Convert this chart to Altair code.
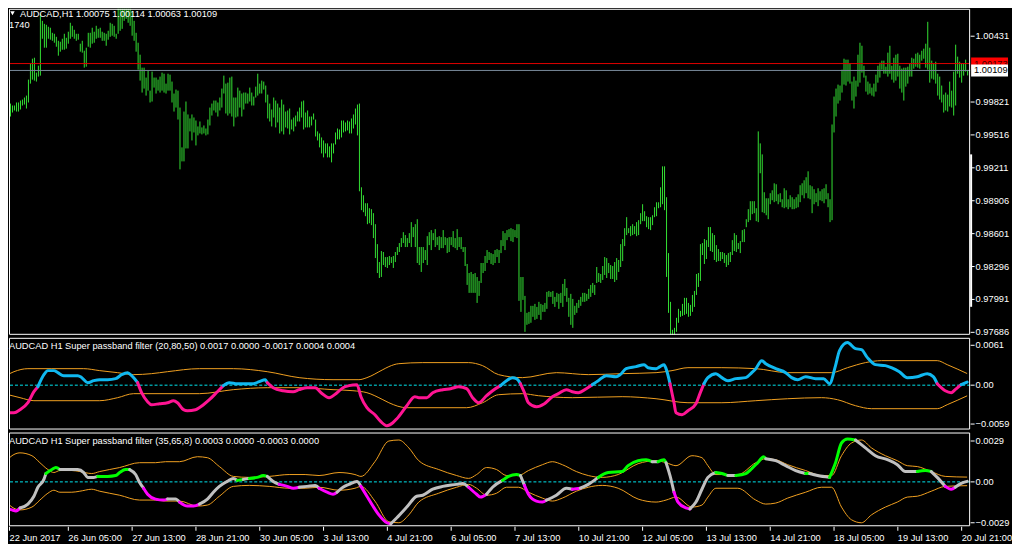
import json
import altair as alt
import pandas as pd

# ---------------- texts ----------------
symbol_line = "AUDCAD,H1  1.00075 1.00114 1.00063 1.00109"
bars_text = "1740"
pane2_title = "AUDCAD H1  Super passband filter (20,80,50) 0.0017 0.0000 -0.0017 0.0004 0.0004"
pane3_title = "AUDCAD H1  Super passband filter (35,65,8) 0.0003 0.0000 -0.0003 0.0000"
time_labels = ["22 Jun 2017", "26 Jun 05:00", "27 Jun 13:00", "28 Jun 21:00", "30 Jun 05:00",
               "3 Jul 13:00", "4 Jul 21:00", "6 Jul 05:00", "7 Jul 13:00", "10 Jul 21:00",
               "12 Jul 05:00", "13 Jul 13:00", "14 Jul 21:00", "18 Jul 05:00", "19 Jul 13:00",
               "20 Jul 21:00"]
price_ticks = [0.97686, 0.97991, 0.98296, 0.98601, 0.98906, 0.99211, 0.99516, 0.99821, 1.00431]
ask_price = 1.00173
bid_price = 1.00109
scale_marker = [0.99331, 0.97918]
p2_ticks = [0.0061, 0.0, -0.0059]
p3_ticks = [0.0029, 0.0, -0.0029]

# ---------------- H1 bars: points above 0.97000 (1 point = 0.00001) ----------------
bar_first = 3
bar_high = [
    2802, 2784, 2784, 2812, 2812, 2830, 2839, 2858, 2876, 3024,
    3172, 3218, 3227, 3089, 3153, 3634, 3569, 3541, 3532, 3514,
    3505, 3458, 3449, 3421, 3384, 3375, 3403, 3449, 3412, 3468,
    3551, 3523, 3486, 3449, 3449, 3357, 3384, 3292, 3320, 3458,
    3458, 3505, 3468, 3523, 3495, 3505, 3468, 3458, 3449, 3477,
    3551, 3541, 3523, 3449, 3708, 3726, 3736, 3736, 3736, 3736,
    3726, 3662, 3569, 3458, 3366, 3255, 3135, 3135, 3043, 3107,
    2922, 3098, 3043, 3043, 3024, 3052, 3089, 3079, 2987, 3079,
    3070, 3006, 2895, 2932, 2922, 2765, 2396, 2728, 2821, 2701,
    2664, 2701, 2673, 2645, 2590, 2636, 2581, 2599, 2571, 2654,
    2765, 2802, 2830, 2830, 2812, 2858, 2941, 3061, 2987, 2996,
    3043, 3052, 2858, 2858, 2950, 2922, 2895, 2904, 2904, 2895,
    2950, 2904, 2867, 2959, 3079, 2987, 3015, 3006, 2969, 2885,
    2802, 2747, 2858, 2830, 2802, 2765, 2839, 2793, 2728, 2738,
    2756, 2654, 2673, 2691, 2728, 2765, 2821, 2830, 2719, 2738,
    2682, 2682, 2710, 2654, 2544, 2525, 2488, 2460, 2433, 2433,
    2405, 2433, 2433, 2534, 2571, 2562, 2645, 2645, 2627, 2645,
    2636, 2664, 2701, 2756, 2793, 2802, 2026, 1952, 1878, 1878,
    1832, 1823, 1786, 1684, 1499, 1333, 1435, 1426, 1379, 1379,
    1389, 1379, 1389, 1426, 1472, 1509, 1555, 1610, 1583, 1555,
    1601, 1703, 1657, 1684, 1730, 1472, 1472, 1472, 1444, 1573,
    1610, 1629, 1601, 1638, 1564, 1573, 1564, 1629, 1564, 1555,
    1564, 1564, 1620, 1555, 1638, 1564, 1564, 1472, 1472, 1315,
    1231, 1241, 1222, 1231, 1194, 1158, 1324, 1324, 1389, 1444,
    1426, 1416, 1407, 1444, 1453, 1444, 1536, 1620, 1601, 1629,
    1638, 1647, 1638, 1629, 1684, 1684, 1194, 1194, 1019, 862,
    871, 927, 927, 945, 917, 964, 945, 936, 954, 1056,
    1065, 1056, 1065, 1010, 1047, 1038, 1047, 1130, 1176, 1093,
    1001, 1038, 991, 927, 954, 982, 1010, 1047, 1047, 1038,
    1084, 1121, 1139, 1121, 1287, 1231, 1222, 1296, 1379, 1370,
    1324, 1305, 1296, 1333, 1370, 1352, 1499, 1546, 1647, 1749,
    1647, 1666, 1684, 1666, 1703, 1721, 1786, 1869, 1804, 1758,
    1749, 1749, 1767, 1841, 1887, 1887, 2026, 2220, 2220, 1934,
    1416, 964, 705, 723, 816, 899, 880, 945, 1001, 1001,
    954, 936, 1028, 1065, 1222, 1231, 1499, 1509, 1546, 1536,
    1657, 1657, 1601, 1583, 1490, 1453, 1426, 1426, 1416, 1398,
    1416, 1426, 1536, 1601, 1583, 1509, 1527, 1629, 1638, 1730,
    1823, 1897, 1897, 1897, 1832, 2544, 2433, 2331, 1980, 1924,
    1924, 1971, 1998, 2063, 2054, 1961, 1971, 1915, 2017, 1998,
    1915, 1952, 1934, 1915, 1934, 1961, 2045, 2063, 2091, 2119,
    2174, 2045, 2035, 2008, 1971, 2017, 1989, 2008, 2017, 2054,
    1971, 1915, 2608, 2867, 2941, 2978, 2969, 3116, 3218, 3209,
    3209, 3172, 3006, 3052, 3015, 3255, 3366, 3338, 3153, 3061,
    3006, 2987, 2950, 2987, 3070, 3153, 3181, 3200, 3200, 3144,
    3274, 3338, 3153, 3227, 3255, 3264, 3153, 3126, 3135, 3135,
    3144, 3172, 3227, 3218, 3264, 3274, 3255, 3292, 3311, 3357,
    3560, 3320, 3200, 3172, 3190, 3079, 3052, 2969, 2885, 2904,
    2885, 3006, 2922, 3098, 3348, 3237, 3190, 3172, 3172, 3209,
    3114,
]
bar_low = [
    2682, 2719, 2738, 2728, 2728, 2747, 2784, 2793, 2756, 2812,
    2987, 3024, 3015, 3006, 3052, 3061, 3403, 3320, 3320, 3403,
    3394, 3384, 3366, 3329, 3246, 3283, 3301, 3301, 3311, 3357,
    3403, 3421, 3403, 3384, 3394, 3283, 3274, 3135, 3144, 3329,
    3320, 3357, 3366, 3403, 3412, 3412, 3384, 3384, 3338, 3394,
    3421, 3431, 3421, 3403, 3449, 3477, 3495, 3569, 3588, 3551,
    3523, 3431, 3384, 3283, 3116, 3015, 2904, 2941, 2876, 2922,
    2812, 2821, 2950, 2895, 2922, 2904, 2922, 2904, 2895, 2922,
    2922, 2812, 2728, 2765, 2654, 2192, 2266, 2266, 2386, 2386,
    2544, 2460, 2534, 2414, 2507, 2525, 2516, 2525, 2507, 2516,
    2599, 2691, 2738, 2719, 2682, 2738, 2765, 2895, 2710, 2691,
    2710, 2682, 2590, 2673, 2682, 2765, 2682, 2747, 2802, 2802,
    2821, 2784, 2784, 2858, 2876, 2895, 2895, 2932, 2812, 2664,
    2636, 2590, 2673, 2581, 2627, 2525, 2544, 2516, 2581, 2571,
    2516, 2562, 2544, 2590, 2636, 2636, 2673, 2562, 2581, 2581,
    2581, 2599, 2654, 2497, 2460, 2396, 2340, 2303, 2340, 2303,
    2303, 2257, 2340, 2423, 2470, 2470, 2488, 2534, 2544, 2553,
    2525, 2525, 2571, 2608, 2507, 1989, 1814, 1795, 1758, 1684,
    1693, 1675, 1555, 1370, 1231, 1185, 1195, 1305, 1287, 1278,
    1305, 1324, 1278, 1333, 1398, 1426, 1472, 1509, 1472, 1472,
    1509, 1472, 1564, 1472, 1324, 1305, 1241, 1324, 1352, 1305,
    1490, 1444, 1536, 1472, 1490, 1444, 1462, 1462, 1490, 1416,
    1426, 1490, 1472, 1462, 1444, 1472, 1453, 1426, 1296, 1121,
    1047, 1047, 1047, 1047, 954, 1019, 1139, 1231, 1250, 1324,
    1352, 1315, 1305, 1324, 1379, 1324, 1416, 1481, 1444, 1536,
    1564, 1527, 1518, 1564, 1555, 973, 871, 982, 686, 751,
    760, 770, 825, 797, 806, 843, 797, 871, 871, 899,
    1010, 1010, 945, 917, 964, 899, 954, 917, 1019, 964,
    825, 751, 723, 843, 862, 908, 927, 964, 964, 973,
    991, 1010, 1047, 1028, 1139, 1148, 1139, 1167, 1213, 1185,
    1231, 1176, 1176, 1148, 1167, 1241, 1287, 1342, 1481, 1583,
    1601, 1573, 1583, 1592, 1573, 1583, 1684, 1712, 1712, 1656,
    1638, 1629, 1675, 1749, 1758, 1832, 1841, 1869, 1814, 1195,
    862, 659, 612, 659, 686, 770, 825, 834, 843, 853,
    825, 834, 871, 917, 1028, 1102, 1158, 1398, 1315, 1361,
    1472, 1435, 1426, 1352, 1333, 1342, 1342, 1361, 1324, 1287,
    1305, 1333, 1398, 1435, 1426, 1453, 1416, 1518, 1518, 1656,
    1703, 1721, 1777, 1786, 1712, 1703, 2156, 1795, 1786, 1767,
    1730, 1869, 1906, 1888, 1897, 1869, 1888, 1841, 1832, 1841,
    1823, 1841, 1823, 1823, 1832, 1841, 1888, 1952, 1924, 1971,
    1924, 1915, 1786, 1869, 1888, 1851, 1906, 1897, 1878, 1915,
    1841, 1703, 1721, 2534, 2682, 2802, 2830, 2904, 2978, 2969,
    3006, 2987, 2830, 2756, 2867, 2959, 2996, 3089, 3043, 2913,
    2885, 2895, 2876, 2867, 2913, 2996, 3043, 3116, 3079, 3079,
    3052, 3079, 3024, 2996, 3015, 3052, 2941, 2904, 2830, 2959,
    2987, 3052, 3052, 3126, 3144, 3135, 3126, 3200, 3218, 3135,
    3116, 2996, 3033, 3024, 2987, 2876, 2839, 2812, 2719, 2738,
    2728, 2775, 2765, 2691, 2784, 3079, 3043, 2996, 3061, 3098,
    3063,
]

# ---------------- indicator 1: Super passband filter (20,80,50) ----------------
p2_main = [
    (0, -0.00427), (5, -0.00427), (8, -0.00381), (12, -0.00275), (15, -0.00107), (17, -0.00031),
    (20, 0.00153), (22, 0.00214), (25, 0.00214), (27, 0.00183), (30, 0.00137), (33, 0.00137),
    (37, 0.00137), (39, 0.00107), (42, 0.00031), (45, 0.00061), (48, 0.00076), (52, 0.00076),
    (56, 0.00092), (59, 0.00153), (62, 0.00183), (64, 0.00137), (67, 0.00031), (69, -0.00122),
    (72, -0.00259), (74, -0.00305), (78, -0.0029), (82, -0.00275), (85, -0.00244), (87, -0.00275),
    (90, -0.00381), (92, -0.00397), (96, -0.00381), (100, -0.00305), (103, -0.00229), (107, -0.00107),
    (110, -0.00015), (113, 0.00031), (117, 0.00015), (121, 0.00015), (125, 0.00015), (128, 0.00046),
    (131, 0.00076), (132, 0.00031), (135, -0.00046), (140, -0.00092), (145, -0.00107), (148, -0.00076),
    (152, -0.00046), (156, -0.00046), (159, -0.00122), (163, -0.00198), (167, -0.00122), (170, -0.00046),
    (173, -0.00015), (177, 0.0), (179, -0.00183), (182, -0.00351), (186, -0.00458), (189, -0.00564),
    (192, -0.00625), (195, -0.0058), (197, -0.00519), (202, -0.0032), (206, -0.00183), (208, -0.00198),
    (212, -0.00198), (215, -0.00122), (220, -0.00076), (224, -0.00061), (228, -0.00031), (232, -0.00061),
    (235, -0.00198), (238, -0.00275), (242, -0.00168), (245, -0.00092), (249, -0.00015), (252, 0.00061),
    (255, 0.00107), (257, 0.00092), (259, 0.00015), (261, -0.00122), (263, -0.00275), (267, -0.00336),
    (271, -0.0029), (275, -0.00183), (278, -0.00137), (282, -0.00076), (285, -0.00107), (288, -0.00122),
    (292, -0.00061), (295, 0.0), (298, 0.00061), (302, 0.00137), (307, 0.00122), (309, 0.00153),
    (312, 0.00244), (317, 0.00275), (321, 0.00305), (323, 0.00259), (327, 0.00244), (329, 0.00275),
    (331, 0.00305), (332, 0.00244), (334, 0.00015), (336, -0.00275), (337, -0.00427), (340, -0.00458),
    (343, -0.00397), (347, -0.0029), (349, -0.00137), (351, 0.00015), (353, 0.00107), (357, 0.00168),
    (360, 0.00107), (363, 0.00061), (367, 0.00092), (372, 0.00107), (375, 0.00183), (377, 0.00244),
    (380, 0.00366), (382, 0.0032), (387, 0.00244), (392, 0.00183), (395, 0.00107), (398, 0.00076),
    (402, 0.00122), (407, 0.00092), (411, 0.00092), (414, 0.00015), (417, 0.0029), (419, 0.00519),
    (423, 0.00641), (427, 0.00549), (430, 0.00534), (433, 0.00412), (437, 0.00305), (442, 0.0029),
    (445, 0.00259), (449, 0.00198), (453, 0.00107), (458, 0.00122), (463, 0.00168), (466, 0.00122),
    (468, 0.00015), (472, -0.00092), (475, -0.00122), (477, -0.00076), (480, 0.0), (483, 0.0004),
]
p2_runs = [(0, "down"), (17, "up"), (67, "down"), (110, "up"), (132, "down"), (249, "up"),
           (259, "down"), (295, "up"), (334, "down"), (351, "up"), (468, "down"), (480, "up")]
p2_upper = [
    (0, 0.00122), (5, 0.00198), (12, 0.00244), (24, 0.00244), (40, 0.00244), (48, 0.00214),
    (57, 0.00183), (65, 0.00153), (74, 0.00168), (82, 0.00198), (98, 0.00244), (115, 0.00244),
    (132, 0.00198), (148, 0.00107), (165, 0.00076), (178, 0.00076), (182, 0.00107), (190, 0.00229),
    (193, 0.00275), (198, 0.0032), (210, 0.00336), (233, 0.00336), (240, 0.0029), (248, 0.00153),
    (260, 0.00107), (277, 0.00183), (293, 0.00153), (310, 0.00168), (327, 0.00183), (335, 0.00214),
    (343, 0.00259), (360, 0.00259), (377, 0.00244), (393, 0.00183), (415, 0.00183), (423, 0.00259),
    (432, 0.00336), (440, 0.00366), (468, 0.00366), (473, 0.00305), (483, 0.0017),
]
p2_lower = [
    (0, -0.00137), (8, -0.00198), (15, -0.00244), (48, -0.00244), (57, -0.00198), (65, -0.00137),
    (98, -0.00137), (115, -0.00076), (132, -0.00046), (148, -0.00046), (165, -0.00076), (175, -0.00092),
    (182, -0.00122), (190, -0.00229), (193, -0.00275), (202, -0.00351), (232, -0.00351), (240, -0.00275),
    (248, -0.00153), (260, -0.00137), (268, -0.00168), (285, -0.00198), (310, -0.00183), (327, -0.00214),
    (343, -0.00275), (360, -0.00275), (377, -0.00244), (393, -0.00214), (410, -0.00198), (418, -0.00229),
    (427, -0.0032), (435, -0.00366), (468, -0.00366), (473, -0.00305), (483, -0.0017),
]

# ---------------- indicator 2: Super passband filter (35,65,8) ----------------
p3_main = [
    (0, -0.0018), (4, -0.002), (6, -0.00207), (8, -0.00186), (12, -0.00159), (15, -0.00104),
    (17, -0.00041), (20, 0.00014), (21, 0.00055), (24, 0.00083), (26, 0.00097), (28, 0.00083),
    (32, 0.00083), (37, 0.00083), (40, 0.00062), (42, 0.00028), (45, 0.00028), (47, 0.00035),
    (52, 0.00035), (56, 0.00041), (58, 0.00062), (61, 0.00083), (63, 0.00083), (66, 0.00048),
    (68, -0.00007), (70, -0.00048), (72, -0.0009), (76, -0.00124), (80, -0.00131), (82, -0.00124),
    (86, -0.00124), (88, -0.00145), (92, -0.00173), (95, -0.00173), (98, -0.00159), (102, -0.00124),
    (105, -0.00076), (108, -0.00035), (112, 0.0), (115, 0.00021), (117, 0.00007), (120, 0.00014),
    (123, 0.00021), (127, 0.00028), (130, 0.00041), (132, 0.00035), (135, 0.0), (138, -0.00021),
    (142, -0.00035), (145, -0.00048), (148, -0.00041), (152, -0.00035), (156, -0.00028), (158, -0.00048),
    (162, -0.00076), (165, -0.0009), (167, -0.00076), (170, -0.00041), (173, -0.00021), (177, 0.0),
    (179, -0.00035), (182, -0.00104), (185, -0.00173), (188, -0.00235), (192, -0.0029), (194, -0.00297),
    (197, -0.00255), (202, -0.0018), (207, -0.00104), (210, -0.00097), (215, -0.00055), (220, -0.00035),
    (227, -0.00021), (230, -0.00014), (233, -0.00041), (237, -0.0009), (239, -0.0011), (242, -0.0009),
    (245, -0.00041), (250, 0.00007), (253, 0.00035), (257, 0.00048), (259, 0.00041), (261, -0.00028),
    (263, -0.0009), (267, -0.00138), (270, -0.00145), (272, -0.00131), (277, -0.00097), (282, -0.00048),
    (285, -0.00055), (289, -0.00048), (293, -0.00021), (298, 0.00028), (303, 0.00062), (310, 0.00069),
    (313, 0.0011), (318, 0.00145), (322, 0.00152), (325, 0.00138), (328, 0.00138), (331, 0.00152),
    (332, 0.00131), (334, 0.00041), (336, -0.00076), (338, -0.00145), (342, -0.00186), (344, -0.00193),
    (347, -0.00145), (350, -0.00055), (353, 0.00028), (357, 0.00062), (360, 0.00055), (363, 0.00041),
    (367, 0.00041), (372, 0.00055), (375, 0.0009), (378, 0.00131), (381, 0.00173), (382, 0.00159),
    (387, 0.00145), (392, 0.0011), (397, 0.00076), (402, 0.00055), (404, 0.00055), (408, 0.00041),
    (414, 0.00028), (417, 0.00131), (420, 0.00269), (423, 0.00297), (427, 0.0029), (432, 0.00235),
    (437, 0.0018), (443, 0.00152), (448, 0.00117), (452, 0.00069), (455, 0.00069), (458, 0.00069),
    (462, 0.00076), (465, 0.00069), (468, 0.00028), (472, -0.00035), (475, -0.00055), (477, -0.00041),
    (480, -0.00014), (483, 0.0),
]
p3_runs = [(0, "down"), (8, "flat"), (21, "up"), (28, "flat"), (47, "up"), (63, "flat"), (70, "down"),
           (82, "flat"), (88, "down"), (98, "flat"), (117, "up"), (120, "flat"), (123, "up"), (132, "flat"),
           (138, "down"), (148, "flat"), (158, "down"), (167, "flat"), (179, "down"), (194, "flat"),
           (233, "down"), (242, "flat"), (250, "up"), (259, "flat"), (261, "down"), (272, "flat"),
           (285, "down"), (289, "flat"), (298, "up"), (325, "flat"), (328, "up"), (332, "flat"),
           (336, "down"), (344, "flat"), (357, "up"), (363, "flat"), (367, "up"), (382, "flat"),
           (402, "up"), (404, "flat"), (414, "up"), (427, "flat"), (458, "up"), (465, "flat"),
           (472, "down"), (477, "flat")]
p3_upper = [
    (0, 0.00124), (4, 0.0018), (8, 0.002), (14, 0.0018), (18, 0.00131), (22, 0.00083), (25, 0.00062),
    (28, 0.00076), (34, 0.00076), (38, 0.00069), (44, 0.00055), (48, 0.00069), (58, 0.00097),
    (68, 0.00131), (76, 0.00131), (81, 0.00138), (88, 0.00138), (97, 0.00173), (102, 0.00166),
    (108, 0.00104), (115, 0.00035), (123, 0.00028), (133, 0.00035), (143, 0.00048), (151, 0.00048),
    (158, 0.00041), (168, 0.00062), (176, 0.00048), (179, 0.00035), (186, 0.00138), (193, 0.00283),
    (198, 0.0029), (203, 0.00235), (208, 0.00145), (218, 0.00083), (227, 0.00041), (233, 0.00021),
    (237, 0.00048), (242, 0.00097), (247, 0.00083), (252, 0.00041), (258, 0.00041), (263, 0.00076),
    (270, 0.00117), (275, 0.00138), (280, 0.00117), (287, 0.00069), (293, 0.00041), (300, 0.00028),
    (308, 0.00048), (318, 0.00124), (327, 0.00145), (332, 0.00131), (337, 0.0011), (345, 0.0018),
    (350, 0.00166), (353, 0.0011), (357, 0.00048), (368, 0.00048), (377, 0.00131), (382, 0.00159),
    (387, 0.00152), (393, 0.00117), (402, 0.00076), (410, 0.00041), (415, 0.00041), (420, 0.0018),
    (425, 0.00269), (430, 0.0029), (435, 0.00235), (442, 0.0018), (448, 0.00145), (453, 0.0011),
    (458, 0.00104), (465, 0.00069), (472, 0.00035), (483, 0.0003),
]
p3_lower = [
    (0, -0.00124), (4, -0.0018), (8, -0.002), (14, -0.0018), (18, -0.00131), (22, -0.00083), (25, -0.00062),
    (28, -0.00076), (34, -0.00076), (38, -0.00069), (44, -0.00055), (48, -0.00069), (58, -0.00097),
    (68, -0.00131), (76, -0.00131), (81, -0.00138), (88, -0.00138), (97, -0.00173), (102, -0.00166),
    (108, -0.00104), (115, -0.00035), (123, -0.00028), (133, -0.00035), (143, -0.00048), (151, -0.00048),
    (158, -0.00041), (168, -0.00062), (176, -0.00048), (179, -0.00035), (186, -0.00138), (193, -0.00283),
    (198, -0.0029), (203, -0.00235), (208, -0.00145), (218, -0.00083), (227, -0.00041), (233, -0.00021),
    (237, -0.00048), (242, -0.00097), (247, -0.00083), (252, -0.00041), (258, -0.00041), (263, -0.00076),
    (270, -0.00117), (275, -0.00138), (280, -0.00117), (287, -0.00069), (293, -0.00041), (300, -0.00028),
    (308, -0.00048), (318, -0.00124), (327, -0.00145), (332, -0.00131), (337, -0.0011), (345, -0.0018),
    (350, -0.00166), (353, -0.0011), (357, -0.00048), (368, -0.00048), (377, -0.00131), (382, -0.00159),
    (387, -0.00152), (393, -0.00117), (402, -0.00076), (410, -0.00041), (415, -0.00041), (420, -0.0018),
    (425, -0.00269), (430, -0.0029), (435, -0.00235), (442, -0.0018), (448, -0.00145), (453, -0.0011),
    (458, -0.00104), (465, -0.00069), (472, -0.00035), (483, -0.0003),
]

# ---------------- style ----------------
FONT = "Liberation Sans"
FS = 9.3
BAR_GREEN = "#33E033"
ASK_RED = "#E00000"
BID_GRAY = "#778899"
BLUE = "#10B8F0"
PINK = "#FF1493"
LIME = "#00FF00"
SILVER = "#C0C0C0"
MAGENTA = "#FF00FF"
ORANGE = "#F0A020"
CYAN = "#00E5EE"

W = 964
H1, H2, H3 = 327, 92, 94
x_scale = alt.Scale(domain=[2.5, 2.5 + W / 2], nice=False, zero=False)
y1 = alt.Scale(domain=[0.9765827, 1.0068055], nice=False, zero=False)
y2s = alt.Scale(domain=[-0.0068358, 0.0071396], nice=False, zero=False)
y3s = alt.Scale(domain=[-0.0031447, 0.0034242], nice=False, zero=False)


def right_axis(values, fmt=None, expr=None):
    kw = dict(orient="right", values=values, title=None, grid=False, domain=False,
              tickColor="white", tickSize=4, tickWidth=1, labelColor="white",
              labelFont=FONT, labelFontSize=FS, labelPadding=1, labelFlush=False,
              labelOverlap=False, labelBound=False)
    if fmt:
        kw["format"] = fmt
    if expr:
        kw["labelExpr"] = expr
    return alt.Axis(**kw)


def pairs_df(pairs):
    return pd.DataFrame({"i": [p[0] for p in pairs], "v": [p[1] for p in pairs]})


def segments(samples, runs):
    rows = []
    last = samples[-1][0]
    for k, (start, state) in enumerate(runs):
        end = runs[k + 1][0] if k + 1 < len(runs) else last
        for i, v in samples:
            if start <= i <= end:
                rows.append({"i": i, "v": v, "seg": k, "state": state})
    return pd.DataFrame(rows)


def text_layer(txt, x, y, color="white", align="left"):
    return alt.Chart(pd.DataFrame({"t": [txt]})).mark_text(
        align=align, baseline="middle", color=color, font=FONT, fontSize=FS
    ).encode(x=alt.value(x), y=alt.value(y), text="t:N")


def frame(h):
    # crisp 1px white border of a pane
    return alt.Chart(pd.DataFrame({"f": [0]})).mark_rect(
        fillOpacity=0, stroke="white", strokeWidth=1).encode(
        x=alt.value(0.5), x2=alt.value(W - 0.5), y=alt.value(0.5), y2=alt.value(h - 0.5))


# ---------------- pane 1: price ----------------
ax1 = right_axis(price_ticks, fmt=".5f")
bars_df = pd.DataFrame({
    "i": list(range(bar_first, bar_first + len(bar_high))),
    "hi": [0.97 + h / 1e5 for h in bar_high],
    "lo": [0.97 + l / 1e5 for l in bar_low],
})

bar_layer = alt.Chart(bars_df).mark_rule(color=BAR_GREEN, strokeWidth=1, xOffset=0.5, clip=True).encode(
    x=alt.X("i:Q", scale=x_scale, axis=None),
    y=alt.Y("lo:Q", scale=y1, axis=ax1),
    y2="hi:Q",
)
ask_line = alt.Chart(pd.DataFrame({"p": [ask_price]})).mark_rule(
    color=ASK_RED, strokeWidth=1).encode(y=alt.Y("p:Q", scale=y1, axis=ax1))
bid_line = alt.Chart(pd.DataFrame({"p": [bid_price]})).mark_rule(
    color=BID_GRAY, strokeWidth=1).encode(y=alt.Y("p:Q", scale=y1, axis=ax1))

ask_df = pd.DataFrame({"p": [ask_price], "t": [f"{ask_price:.5f}"]})
bid_df = pd.DataFrame({"p": [bid_price], "t": [f"{bid_price:.5f}"]})
ask_box = alt.Chart(ask_df).mark_rect(color="#FF0000", height=12).encode(
    x=alt.value(W + 1), x2=alt.value(W + 38), y=alt.Y("p:Q", scale=y1, axis=ax1))
ask_txt = alt.Chart(ask_df).mark_text(align="left", baseline="middle", color="#400000",
                                      font=FONT, fontSize=FS).encode(
    x=alt.value(W + 4), y=alt.Y("p:Q", scale=y1, axis=ax1), text="t:N")
bid_box = alt.Chart(bid_df).mark_rect(color="white", height=12).encode(
    x=alt.value(W + 1), x2=alt.value(W + 38), y=alt.Y("p:Q", scale=y1, axis=ax1))
bid_txt = alt.Chart(bid_df).mark_text(align="left", baseline="middle", color="black",
                                      font=FONT, fontSize=FS).encode(
    x=alt.value(W + 4), y=alt.Y("p:Q", scale=y1, axis=ax1), text="t:N")
marker = alt.Chart(pd.DataFrame({"a": [scale_marker[0]], "b": [scale_marker[1]]})).mark_rule(
    color="white", strokeWidth=2).encode(
    x=alt.value(W + 1), y=alt.Y("a:Q", scale=y1, axis=ax1), y2="b:Q")

tri = alt.Chart(pd.DataFrame({"t": [0]})).mark_point(
    shape="triangle-down", filled=True, color="white", size=20, opacity=1).encode(
    x=alt.value(3.5), y=alt.value(4.5))

pane1 = alt.layer(
    bar_layer, ask_line, bid_line, ask_box, ask_txt, bid_box, bid_txt, marker, tri,
    text_layer(symbol_line, 11, 5), text_layer(bars_text, 0, 16), frame(H1),
).properties(width=W, height=H1)

# ---------------- pane 2 ----------------
ax2 = right_axis(p2_ticks, expr="datum.value == 0 ? '0.00' : format(datum.value, '.4f')")
zero2 = alt.Chart(pd.DataFrame({"z": [0.0]})).mark_rule(
    color=CYAN, strokeWidth=1, strokeDash=[3, 2], yOffset=0.5).encode(
    y=alt.Y("z:Q", scale=y2s, axis=ax2))
band2_up = alt.Chart(pairs_df(p2_upper)).mark_line(color=ORANGE, strokeWidth=1, interpolate="monotone", clip=True).encode(
    x=alt.X("i:Q", scale=x_scale, axis=None), y=alt.Y("v:Q", scale=y2s, axis=ax2))
band2_lo = alt.Chart(pairs_df(p2_lower)).mark_line(color=ORANGE, strokeWidth=1, interpolate="monotone", clip=True).encode(
    x=alt.X("i:Q", scale=x_scale, axis=None), y=alt.Y("v:Q", scale=y2s, axis=ax2))
main2 = alt.Chart(segments(p2_main, p2_runs)).mark_line(
    strokeWidth=3, interpolate="monotone", strokeCap="round", strokeJoin="round", clip=True).encode(
    x=alt.X("i:Q", scale=x_scale, axis=None), y=alt.Y("v:Q", scale=y2s, axis=ax2),
    detail="seg:N",
    color=alt.Color("state:N", scale=alt.Scale(domain=["up", "down"], range=[BLUE, PINK]), legend=None))
pane2 = alt.layer(zero2, band2_up, band2_lo, main2, text_layer(pane2_title, 0, 8), frame(H2)
                  ).properties(width=W, height=H2)

# ---------------- pane 3 ----------------
tick_vals = [2.5] + [32 * k for k in range(1, len(time_labels))]
x_axis = alt.Axis(orient="bottom", values=tick_vals, title=None, grid=False, domain=False,
                  labelExpr=json.dumps(time_labels) + "[round(datum.value / 32)]",
                  tickColor="white", tickSize=4, labelColor="white", labelFont=FONT, labelFontSize=FS,
                  labelAlign="left", labelBaseline="middle", labelPadding=7, labelFlush=False,
                  labelOverlap=False, labelBound=False)
ax3 = right_axis(p3_ticks, expr="datum.value == 0 ? '0.00' : format(datum.value, '.4f')")
zero3 = alt.Chart(pd.DataFrame({"z": [0.0]})).mark_rule(
    color=CYAN, strokeWidth=1, strokeDash=[3, 2], yOffset=0.5).encode(
    y=alt.Y("z:Q", scale=y3s, axis=ax3))
band3_up = alt.Chart(pairs_df(p3_upper)).mark_line(color=ORANGE, strokeWidth=1, interpolate="monotone", clip=True).encode(
    x=alt.X("i:Q", scale=x_scale, axis=x_axis), y=alt.Y("v:Q", scale=y3s, axis=ax3))
band3_lo = alt.Chart(pairs_df(p3_lower)).mark_line(color=ORANGE, strokeWidth=1, interpolate="monotone", clip=True).encode(
    x=alt.X("i:Q", scale=x_scale, axis=x_axis), y=alt.Y("v:Q", scale=y3s, axis=ax3))
main3 = alt.Chart(segments(p3_main, p3_runs)).mark_line(
    strokeWidth=3, interpolate="monotone", strokeCap="round", strokeJoin="round", clip=True).encode(
    x=alt.X("i:Q", scale=x_scale, axis=x_axis), y=alt.Y("v:Q", scale=y3s, axis=ax3),
    detail="seg:N",
    color=alt.Color("state:N", scale=alt.Scale(domain=["up", "flat", "down"], range=[LIME, SILVER, MAGENTA]),
                    legend=None))
pane3 = alt.layer(zero3, band3_up, band3_lo, main3, text_layer(pane3_title, 0, 9), frame(H3)
                  ).properties(width=W, height=H3)

chart = alt.vconcat(pane1, pane2, pane3, spacing=3, bounds="flush").resolve_scale(
    x="independent", y="independent", color="independent"
).properties(
    padding={"left": 0, "top": 0, "right": 0, "bottom": 0}, background="black"
).configure_view(stroke="black", strokeWidth=0, fill="black")

chart.save("out.html", embed_options={"renderer": "svg", "actions": False})
